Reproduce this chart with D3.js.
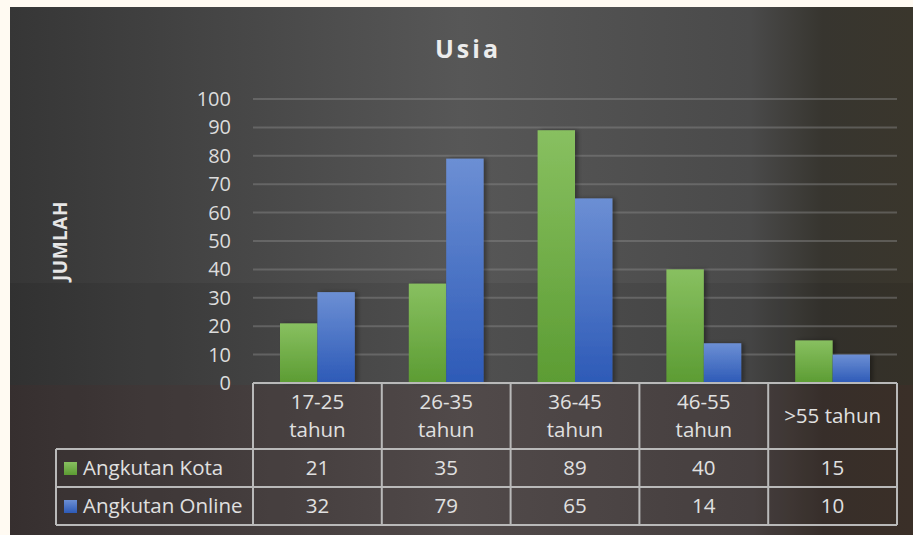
<!DOCTYPE html>
<html>
<head>
<meta charset="utf-8">
<script src="https://cdn.jsdelivr.net/npm/d3@7"></script>
<style>
  body { margin: 0; background: #fffaf2; }
  text { font-family: "Open Sans", Lato, sans-serif; }
</style>
</head>
<body>
<div id="chart"></div>
<script>
// data
var categories = ["17-25 tahun", "26-35 tahun", "36-45 tahun", "46-55 tahun", ">55 tahun"];
var seriesNames = ["Angkutan Kota", "Angkutan Online"];
var kota = [21, 35, 89, 40, 15];
var online = [32, 79, 65, 14, 10];
var yTicks = [0, 10, 20, 30, 40, 50, 60, 70, 80, 90, 100];

var W = 913, H = 535;
var plotL = 253, plotR = 897, plotT = 99, plotB = 383;
var fontSize = "20.5px";

var svg = d3.select("#chart").append("svg")
    .attr("width", W)
    .attr("height", H);

var defs = svg.append("defs");

// background gradient
var bg = defs.append("linearGradient").attr("id", "bg")
    .attr("x1", "0").attr("x2", "1").attr("y1", "0").attr("y2", "0");
bg.append("stop").attr("offset", "0").attr("stop-color", "#363636");
bg.append("stop").attr("offset", "0.5").attr("stop-color", "#575757");
bg.append("stop").attr("offset", "0.82").attr("stop-color", "#4a4a4a");
bg.append("stop").attr("offset", "0.9").attr("stop-color", "#37352f");
bg.append("stop").attr("offset", "1").attr("stop-color", "#3a362c");

var green = defs.append("linearGradient").attr("id", "gGreen")
    .attr("x1", "0").attr("x2", "0").attr("y1", "0").attr("y2", "1");
green.append("stop").attr("offset", "0").attr("stop-color", "#88c060");
green.append("stop").attr("offset", "1").attr("stop-color", "#5c9c33");

var blue = defs.append("linearGradient").attr("id", "gBlue")
    .attr("x1", "0").attr("x2", "0").attr("y1", "0").attr("y2", "1");
blue.append("stop").attr("offset", "0").attr("stop-color", "#6c8fd4");
blue.append("stop").attr("offset", "1").attr("stop-color", "#2d5ab7");

var shadow = defs.append("filter").attr("id", "shadow")
    .attr("x", "-20%").attr("y", "-10%").attr("width", "150%").attr("height", "130%");
shadow.append("feDropShadow").attr("dx", 3).attr("dy", 0).attr("stdDeviation", 2)
    .attr("flood-color", "#000").attr("flood-opacity", 0.35);

svg.append("rect")
    .attr("x", 10).attr("y", 7).attr("width", W - 10).attr("height", H - 7)
    .attr("fill", "url(#bg)");
// darker lower band and reddish tint under the axis
svg.append("rect")
    .attr("x", 10).attr("y", 283).attr("width", W - 10).attr("height", H - 283)
    .attr("fill", "#000").attr("opacity", 0.08);
svg.append("rect")
    .attr("x", 10).attr("y", 385).attr("width", W - 10).attr("height", H - 385)
    .attr("fill", "#5a2a2a").attr("opacity", 0.15);

// title
svg.append("text")
    .attr("x", 468).attr("y", 58)
    .attr("text-anchor", "middle")
    .attr("fill", "#ececec")
    .style("font-size", "25px")
    .style("font-weight", "bold")
    .style("letter-spacing", "3px")
    .text("Usia");

// y axis title
svg.append("text")
    .attr("transform", "translate(67,241) rotate(-90)")
    .attr("text-anchor", "middle")
    .attr("fill", "#e6e6e6")
    .style("font-size", "19px")
    .style("font-weight", "bold")
    .style("letter-spacing", "0.5px")
    .text("JUMLAH");

var x = d3.scaleBand()
    .domain(categories)
    .range([plotL, plotR])
    .paddingInner(0)
    .paddingOuter(0);

var xSub = d3.scaleBand()
    .domain(seriesNames)
    .range([27, x.bandwidth() - 27]);

var y = d3.scaleLinear()
    .domain([0, 100])
    .range([plotB, plotT]);

// gridlines
svg.append("g")
    .selectAll("line")
    .data(yTicks.filter(function (d) { return d > 0; }))
    .enter().append("line")
    .attr("x1", plotL).attr("x2", plotR)
    .attr("y1", function (d) { return y(d); })
    .attr("y2", function (d) { return y(d); })
    .attr("stroke", "#8a8a8a")
    .attr("stroke-opacity", 0.45)
    .attr("stroke-width", 2);

// y axis labels
var yAxis = svg.append("g")
    .attr("transform", "translate(" + (plotL - 10) + ",0)")
    .call(d3.axisLeft(y).tickValues(yTicks).tickSize(0).tickPadding(12));
yAxis.select(".domain").remove();
yAxis.selectAll("text")
    .attr("fill", "#dcdcdc")
    .style("font-size", "20px")
    .style("font-family", "'Open Sans', Lato, sans-serif");

// bars
var rows = categories.map(function (c, i) {
    return { cat: c, vals: [kota[i], online[i]] };
});
var fills = ["url(#gGreen)", "url(#gBlue)"];

var groups = svg.append("g")
    .selectAll("g")
    .data(rows)
    .enter().append("g")
    .attr("transform", function (d) { return "translate(" + x(d.cat) + ",0)"; });

groups.selectAll("rect")
    .data(function (d) { return d.vals.map(function (v, j) { return { s: seriesNames[j], v: v, j: j }; }); })
    .enter().append("rect")
    .attr("x", function (d) { return xSub(d.s); })
    .attr("y", function (d) { return y(d.v); })
    .attr("width", xSub.bandwidth())
    .attr("height", function (d) { return y(0) - y(d.v); })
    .attr("fill", function (d) { return fills[d.j]; })
    .attr("filter", "url(#shadow)");

// data table
var rowH = 38;
var headB = 449;
var legL = 56;
var lineCol = "#b9b9b9";
var table = svg.append("g");

// header top + category column lines
table.append("line")
    .attr("x1", plotL).attr("x2", plotR).attr("y1", plotB).attr("y2", plotB)
    .attr("stroke", lineCol).attr("stroke-width", 2);
var colEdges = categories.map(function (c) { return x(c); }).concat([plotR]);
table.selectAll("line.v")
    .data(colEdges)
    .enter().append("line")
    .attr("class", "v")
    .attr("x1", function (d) { return d; }).attr("x2", function (d) { return d; })
    .attr("y1", plotB).attr("y2", headB + 2 * rowH)
    .attr("stroke", lineCol).attr("stroke-width", 2);
// horizontal row lines
[headB, headB + rowH, headB + 2 * rowH].forEach(function (yy) {
    table.append("line")
        .attr("x1", legL).attr("x2", plotR).attr("y1", yy).attr("y2", yy)
        .attr("stroke", lineCol).attr("stroke-width", 2);
});
table.append("line")
    .attr("x1", legL).attr("x2", legL).attr("y1", headB).attr("y2", headB + 2 * rowH)
    .attr("stroke", lineCol).attr("stroke-width", 2);

// header labels
categories.forEach(function (c) {
    var cx = x(c) + x.bandwidth() / 2;
    var lines = c.indexOf("-") >= 0 ? c.split(" ") : [c];
    var t = table.append("text")
        .attr("text-anchor", "middle")
        .attr("fill", "#e0e0e0")
        .style("font-size", fontSize);
    if (lines.length === 1) {
        t.attr("x", cx).attr("y", 423).text(c);
    } else {
        lines.forEach(function (ln, k) {
            t.append("tspan").attr("x", cx).attr("y", 409 + k * 28).text(ln);
        });
    }
});

// values + legend
var seriesVals = [kota, online];
seriesNames.forEach(function (s, j) {
    var ry = headB + j * rowH;
    table.append("rect")
        .attr("x", 64).attr("y", ry + 13).attr("width", 13).attr("height", 13)
        .attr("fill", fills[j]);
    table.append("text")
        .attr("x", 83).attr("y", ry + 26)
        .attr("fill", "#e0e0e0")
        .style("font-size", fontSize)
        .text(s);
    categories.forEach(function (c, i) {
        table.append("text")
            .attr("x", x(c) + x.bandwidth() / 2).attr("y", ry + 26)
            .attr("text-anchor", "middle")
            .attr("fill", "#e0e0e0")
            .style("font-size", fontSize)
            .text(seriesVals[j][i]);
    });
});
</script>
</body>
</html>
